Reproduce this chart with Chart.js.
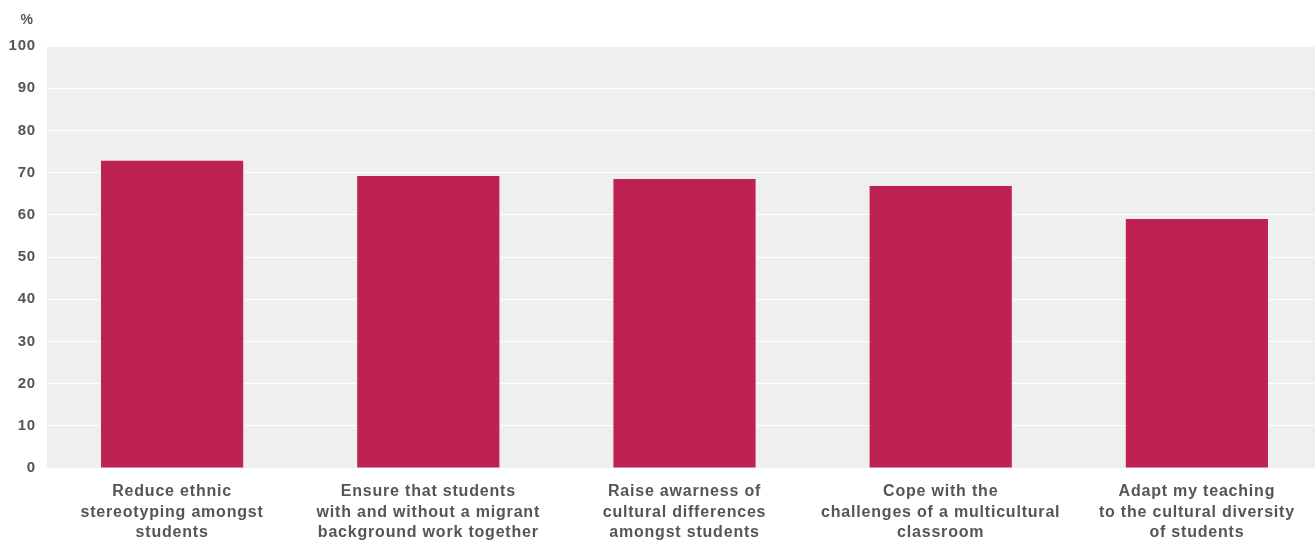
<!DOCTYPE html>
<html>
<head>
<meta charset="utf-8">
<script src="https://cdn.jsdelivr.net/npm/chart.js@4"></script>
<style>
  html, body { margin: 0; background: #fff; overflow: hidden; }
  #wrap { width: 1325px; height: 541px; position: relative; }
</style>
</head>
<body>
<div id="wrap"><canvas id="barChart"></canvas></div>
<script>
// categories and values (% of teachers)
const categories = [
  ['Reduce ethnic', 'stereotyping amongst', 'students'],
  ['Ensure that students', 'with and without a migrant', 'background work together'],
  ['Raise awarness of', 'cultural differences', 'amongst students'],
  ['Cope with the', 'challenges of a multicultural', 'classroom'],
  ['Adapt my teaching', 'to the cultural diversity', 'of students']
];
const values = [72.8, 69.2, 68.5, 66.8, 59.0];
const yTicks = [0, 10, 20, 30, 40, 50, 60, 70, 80, 90, 100];

const textColor = '#555555';
const fontFam = '"Liberation Sans", Arial, Helvetica, sans-serif';

// grey plot background + "%" unit label
const plotBg = {
  id: 'plotBg',
  beforeDraw(chart) {
    const {ctx, chartArea: a} = chart;
    ctx.letterSpacing = '0.8px';
    ctx.save();
    ctx.fillStyle = '#efefef';
    ctx.fillRect(a.left + 3, a.top, chart.width - a.left - 3, a.bottom - a.top);
    ctx.restore();
  },
  afterDraw(chart) {
    const ctx = chart.ctx;
    ctx.save();
    ctx.font = 'bold 14px ' + fontFam;
    ctx.fillStyle = textColor;
    ctx.textAlign = 'center';
    ctx.textBaseline = 'middle';
    ctx.fillText('%', 27, 20);
    ctx.restore();
  }
};

const ctx1 = document.getElementById('barChart');
var barChart = new Chart(ctx1, {
  type: 'bar',
  data: {
    labels: categories,
    datasets: [{
      data: values,
      backgroundColor: '#bd2253',
      barPercentage: 0.555,
      categoryPercentage: 1.0,
      borderWidth: 0
    }]
  },
  options: {
    responsive: true,
    maintainAspectRatio: false,
    animation: false,
    layout: { padding: { top: 46, left: 0, right: 0, bottom: 0 } },
    plugins: {
      legend: { display: false },
      tooltip: { enabled: false }
    },
    scales: {
      x: {
        grid: { display: false },
        border: { display: false },
        ticks: {
          color: textColor,
          font: { family: fontFam, size: 16, weight: 'bold', lineHeight: 1.3 },
          padding: 5,
          maxRotation: 0,
          autoSkip: false
        },
        afterFit: (s) => { s.height = 73; }
      },
      y: {
        min: 0,
        max: 100,
        afterBuildTicks: (s) => { s.ticks = yTicks.map(v => ({ value: v })); },
        grid: { color: '#ffffff', lineWidth: 1, drawTicks: false },
        border: { display: false },
        ticks: {
          color: textColor,
          font: { family: fontFam, size: 15, weight: 'bold' },
          padding: 8
        },
        afterFit: (s) => { s.width = 44; }
      }
    }
  },
  plugins: [plotBg]
});
</script>
</body>
</html>
